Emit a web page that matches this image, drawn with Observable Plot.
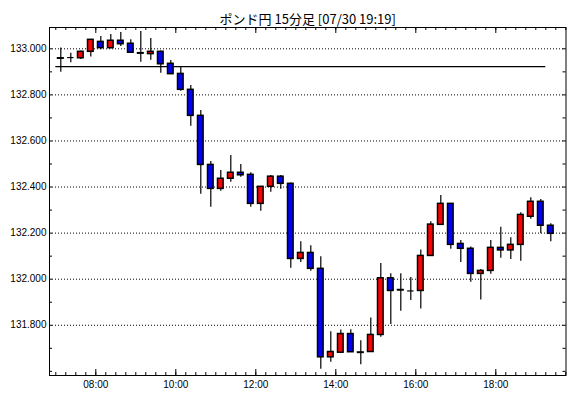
<!DOCTYPE html>
<html><head><meta charset="utf-8">
<script src="https://cdn.jsdelivr.net/npm/d3@7"></script>
<script src="https://cdn.jsdelivr.net/npm/@observablehq/plot@0.6"></script>
<style>body{margin:0;background:#fff}</style>
</head><body><div id="chart"></div>
<script>
const title = "ポンド円 15分足 [07/30 19:19]";
const times = ["07:00","07:15","07:30","07:45","08:00","08:15","08:30","08:45","09:00","09:15",
  "09:30","09:45","10:00","10:15","10:30","10:45","11:00","11:15","11:30","11:45",
  "12:00","12:15","12:30","12:45","13:00","13:15","13:30","13:45","14:00","14:15",
  "14:30","14:45","15:00","15:15","15:30","15:45","16:00","16:15","16:30","16:45",
  "17:00","17:15","17:30","17:45","18:00","18:15","18:30","18:45","19:00","19:15"];
const opens = [132.957,132.962,132.959,132.987,133.030,133.003,133.035,133.022,132.981,132.977,
  132.987,132.935,132.891,132.822,132.709,132.496,132.392,132.436,132.462,132.453,
  132.327,132.401,132.445,132.414,132.088,132.114,132.045,131.661,131.681,131.762,
  131.682,131.684,131.758,132.004,131.953,131.949,131.949,132.101,132.236,132.327,
  132.153,132.132,132.023,132.036,132.136,132.125,132.149,132.271,132.336,132.232];
const highs = [133.004,132.981,132.990,133.040,133.053,133.062,133.071,133.039,133.075,133.045,
  132.990,132.949,132.920,132.841,132.732,132.511,132.472,132.537,132.498,132.462,
  132.402,132.450,132.450,132.418,132.163,132.145,132.097,131.772,131.780,131.781,
  131.733,131.832,132.068,132.024,132.024,132.007,132.127,132.249,132.363,132.327,
  132.168,132.140,132.042,132.168,132.225,132.180,132.288,132.354,132.346,132.241];
const lows = [132.898,132.939,132.954,132.964,132.996,132.999,133.010,132.983,132.942,132.950,
  132.894,132.890,132.816,132.664,132.369,132.312,132.382,132.421,132.442,132.312,
  132.295,132.377,132.390,132.047,132.073,132.034,131.609,131.639,131.678,131.683,
  131.629,131.684,131.748,131.803,131.861,131.907,131.871,132.101,132.236,132.130,
  132.073,131.987,131.910,132.021,132.091,132.085,132.078,132.260,132.197,132.163];
const closes = [132.959,132.962,132.987,133.039,133.003,133.035,133.020,132.983,132.979,132.987,
  132.933,132.890,132.822,132.709,132.496,132.392,132.436,132.462,132.451,132.327,
  132.401,132.445,132.414,132.088,132.114,132.045,131.661,131.684,131.762,131.683,
  131.680,131.758,132.004,131.949,131.951,131.949,132.101,132.237,132.327,132.149,
  132.132,132.023,132.036,132.136,132.125,132.149,132.279,132.336,132.232,132.197];
const refLevel = 132.923;
const yLabelTicks = [131.8,132.0,132.2,132.4,132.6,132.8,133.0];
const yMinorTicks = [131.6,131.7,131.8,131.9,132.0,132.1,132.2,132.3,132.4,132.5,132.6,132.7,132.8,132.9,133.0];
const xLabelTicks = ["08:00","10:00","12:00","14:00","16:00","18:00"];

const toH = s => { const [h, m] = s.split(":").map(Number); return h + m / 60; };
const data = times.map((t, i) => ({h: toH(t), o: opens[i], hi: highs[i], lo: lows[i], c: closes[i]}));
const bars = data.filter(d => d.o !== d.c);
const dojis = data.filter(d => d.o === d.c);
const xMajor = xLabelTicks.map(toH);
const xMinor = d3.range(7, 19.76, 0.25);
const half = 0.125, bw = 0.07;

const W = 570, H = 398, mT = 27, mB = 23, mL = 49, mR = 4.5;
const innerH = H - mT - mB, innerW = W - mL - mR;

const chart = Plot.plot({
  width: W, height: H, marginTop: mT, marginBottom: mB, marginLeft: mL, marginRight: mR,
  style: {fontFamily: "Liberation Sans, Arial, sans-serif", fontSize: "10px", background: "#fff", color: "#000"},
  x: {domain: [6.8425, 19.755]},
  y: {domain: [131.582, 133.0925]},
  marks: [
    Plot.ruleY(yLabelTicks, {stroke: "#000", strokeDasharray: "1,2", strokeWidth: 1}),
    Plot.ruleY([refLevel], {x1: data[0].h, x2: data[data.length - 1].h, stroke: "#000", strokeWidth: 1.2}),
    Plot.ruleX(data, {x: d => d.h + half, y1: "lo", y2: "hi", stroke: "#000", strokeWidth: 1.2}),
    Plot.rect(bars, {x1: d => d.h + half - bw, x2: d => d.h + half + bw, y1: "o", y2: "c",
      fill: d => d.c > d.o ? "#ff0000" : "#0000ff", stroke: "#000", strokeWidth: 1.5}),
    Plot.ruleY(dojis, {y: "o", x1: d => d.h + half - bw - 0.01, x2: d => d.h + half + bw + 0.01, stroke: "#000", strokeWidth: 1.2}),
    Plot.ruleX(xMinor, {insetTop: innerH - 3, stroke: "#000"}),
    Plot.ruleX(xMajor, {insetTop: innerH - 6, stroke: "#000"}),
    Plot.ruleX(xMinor, {insetBottom: innerH - 3, stroke: "#000"}),
    Plot.ruleX(xMajor, {insetBottom: innerH - 6, stroke: "#000"}),
    Plot.ruleY(yMinorTicks, {insetRight: innerW - 3, stroke: "#000"}),
    Plot.ruleY(yMinorTicks, {insetLeft: innerW - 3, stroke: "#000"}),
    Plot.frame({stroke: "#000"}),
    Plot.axisY(yLabelTicks, {tickSize: 0, tickPadding: 3, tickFormat: d => d.toFixed(3), fontSize: 10}),
    Plot.axisX(xMajor, {tickSize: 0, tickPadding: 5, tickFormat: h => xLabelTicks[xMajor.indexOf(h)], fontSize: 10}),
    Plot.text([title], {text: d => d, frameAnchor: "top", dy: -13, fontSize: 13, fontFamily: "Noto Sans CJK JP"})
  ]
});
document.getElementById("chart").appendChild(chart);
</script>
</body></html>
